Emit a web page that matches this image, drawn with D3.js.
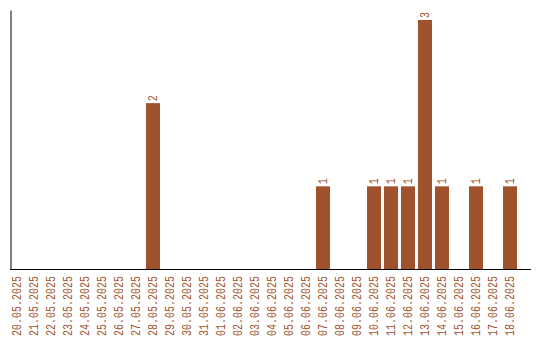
<!DOCTYPE html>
<html>
<head>
<meta charset="utf-8">
<script src="https://cdn.jsdelivr.net/npm/d3@7"></script>
<style>
  body { margin: 0; background: #fff; }
  text { font-family: "Liberation Mono", "Courier New", monospace; }
</style>
</head>
<body>
<script>
// daily counts, 20.05.2025 - 18.06.2025
const dates = ["20.05.2025","21.05.2025","22.05.2025","23.05.2025","24.05.2025",
  "25.05.2025","26.05.2025","27.05.2025","28.05.2025","29.05.2025","30.05.2025",
  "31.05.2025","01.06.2025","02.06.2025","03.06.2025","04.06.2025","05.06.2025",
  "06.06.2025","07.06.2025","08.06.2025","09.06.2025","10.06.2025","11.06.2025",
  "12.06.2025","13.06.2025","14.06.2025","15.06.2025","16.06.2025","17.06.2025",
  "18.06.2025"];
const counts = [0,0,0,0,0,0,0,0,2,0,0,0,0,0,0,0,0,0,1,0,0,1,1,1,3,1,0,1,0,1];

const width = 540, height = 340;
const left = 10, bottom = 269.5;
const color = "#a0522d";
// labels are tall but narrow in the original, squeeze 12px mono to 6px advance
const squeeze = " scale(0.833,1)";

const data = dates.map(function(d, i) { return {date: d, value: counts[i]}; });

const svg = d3.select("body").append("svg")
    .attr("width", width)
    .attr("height", height);

const x = d3.scaleBand()
    .domain(dates)
    .range([left, left + 17 * dates.length - 3])
    .paddingInner(3 / 17)
    .paddingOuter(0);

const yMax = d3.max(counts);
const y = d3.scaleLinear()
    .domain([0, yMax * 1.04])
    .range([bottom, 10]);

// bars
svg.selectAll(".bar")
  .data(data.filter(function(d) { return d.value > 0; }))
  .enter().append("rect")
    .attr("class", "bar")
    .attr("x", function(d) { return x(d.date); })
    .attr("y", function(d) { return y(d.value); })
    .attr("width", x.bandwidth())
    .attr("height", function(d) { return y(0) - y(d.value); })
    .style("fill", color);

// value labels on top of bars
svg.selectAll(".val")
  .data(data.filter(function(d) { return d.value > 0; }))
  .enter().append("text")
    .attr("class", "val")
    .attr("transform", function(d) {
      return "translate(" + (x(d.date) + x.bandwidth() / 2) + "," + (y(d.value) - 2) + ") rotate(-90)" + squeeze;
    })
    .attr("dy", "0.35em")
    .style("font-size", "12px")
    .style("fill", color)
    .text(function(d) { return d.value; });

// date labels
svg.selectAll(".date")
  .data(dates)
  .enter().append("text")
    .attr("class", "date")
    .attr("transform", function(d) {
      return "translate(" + (x(d) + x.bandwidth() / 2) + "," + (bottom + 6.5) + ") rotate(-90)" + squeeze;
    })
    .attr("dy", "0.35em")
    .style("text-anchor", "end")
    .style("font-size", "12px")
    .style("fill", color)
    .text(function(d) { return d; });

// axes (plain lines, no ticks)
svg.append("g")
    .attr("transform", "translate(" + (left + 0.5) + ",0)")
    .call(d3.axisLeft(y).tickValues([]).tickSizeOuter(0));

svg.append("line")
    .attr("x1", left)
    .attr("x2", 531)
    .attr("y1", bottom)
    .attr("y2", bottom)
    .style("stroke", "#000")
    .style("stroke-width", 1);
</script>
</body>
</html>
